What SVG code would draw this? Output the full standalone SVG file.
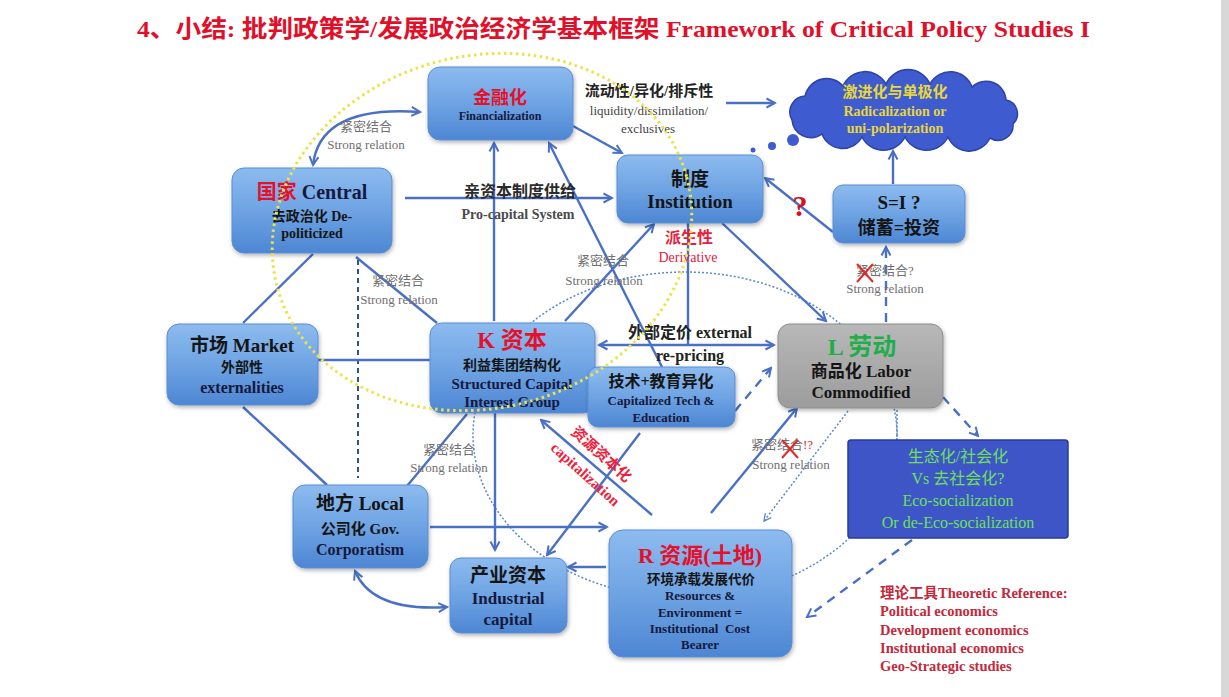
<svg xmlns="http://www.w3.org/2000/svg" width="1229" height="697" viewBox="0 0 1229 697">
  <defs>
    <style>
      .t { font-family: "Liberation Serif", "Noto Sans CJK SC", serif; font-weight: bold; text-anchor: middle; }
      .navy { fill: #15193d; }
      .blk { fill: #151515; }
      .red { fill: #e5102a; }
      .lbl { font-family: "Liberation Serif", "Noto Sans CJK SC", serif; font-size: 13px; fill: #707070; text-anchor: middle; }
      .box { fill: url(#gBlue); stroke: #5b8dd6; stroke-width: 1; filter: url(#sh); }
      .ln { fill: none; stroke: #4a70c6; stroke-width: 2.4; }
      .arr { marker-end: url(#ah); }
      .arr2 { marker-start: url(#ah); marker-end: url(#ah); }
      .dash { fill: none; stroke: #4a70c6; stroke-width: 2.4; stroke-dasharray: 9 7; }
      .dot { fill: none; stroke: #5a88d0; stroke-width: 1.5; stroke-dasharray: 2 2; }
      .cross { stroke: #e02828; stroke-width: 2; }
      .eco { fill: #6fe05c; font-family: "Liberation Serif", "Noto Sans CJK SC", serif; font-size: 16px; text-anchor: middle; }
      .ref { fill: #c4283a; font-family: "Liberation Serif", "Noto Sans CJK SC", serif; font-size: 14.5px; font-weight: bold; }
    </style>
    <linearGradient id="gBlue" x1="0" y1="0" x2="0" y2="1">
      <stop offset="0" stop-color="#8dbbef"/>
      <stop offset="0.55" stop-color="#6ba1e2"/>
      <stop offset="1" stop-color="#4d86d3"/>
    </linearGradient>
    <linearGradient id="gGray" x1="0" y1="0" x2="0" y2="1">
      <stop offset="0" stop-color="#b8b8b8"/>
      <stop offset="1" stop-color="#9c9c9c"/>
    </linearGradient>
    <filter id="sh" x="-10%" y="-10%" width="120%" height="130%">
      <feDropShadow dx="1" dy="2" stdDeviation="2" flood-color="#000" flood-opacity="0.3"/>
    </filter>
    <marker id="ah" viewBox="0 0 12 12" refX="10" refY="6" markerWidth="12" markerHeight="12" markerUnits="userSpaceOnUse" orient="auto-start-reverse">
      <path d="M1.5,1.5 L10,6 L1.5,10.5" fill="none" stroke="#4a70c6" stroke-width="2"/>
    </marker>
    <marker id="ahs" viewBox="0 0 12 12" refX="10" refY="6" markerWidth="10" markerHeight="10" markerUnits="userSpaceOnUse" orient="auto">
      <path d="M1.5,1.5 L10,6 L1.5,10.5" fill="none" stroke="#5a88d0" stroke-width="1.6"/>
    </marker>
  </defs>

  <rect width="1229" height="697" fill="#ffffff"/>
  <rect x="1221" y="0" width="8" height="697" fill="#d8d8d8"/>

  <!-- title -->
  <text x="137" y="37" font-family="Liberation Serif, Noto Sans CJK SC, serif" font-weight="bold" font-size="24" fill="#e0102a" textLength="953" lengthAdjust="spacingAndGlyphs">4、小结: 批判政策学/发展政治经济学基本框架 Framework of Critical Policy Studies I</text>

  <!-- thin dotted loop behind the lower nodes -->
  <ellipse cx="685" cy="435" rx="212" ry="163" class="dot"/>

  <!-- connectors -->
  <g id="connectors">
    <path class="ln arr2" d="M313,165 Q320,105 420,112"/>
    <line class="ln arr" x1="405" y1="198" x2="612" y2="198"/>
    <line class="ln arr" x1="573" y1="126" x2="622" y2="153"/>
    <line class="ln arr" x1="726" y1="103" x2="775" y2="103"/>
    <line class="ln arr" x1="893" y1="184" x2="893" y2="151"/>
    <line class="ln arr" x1="833" y1="232" x2="765" y2="178"/>
    <line class="dash arr" x1="886" y1="322" x2="886" y2="247"/>
    <line class="ln" x1="313" y1="254" x2="243" y2="323"/>
    <line class="ln" x1="356" y1="257" x2="437" y2="323"/>
    <line x1="358" y1="260" x2="358" y2="478" stroke="#34508f" stroke-width="2" stroke-dasharray="5 4"/>
    <line class="ln" x1="318" y1="360" x2="430" y2="360"/>
    <line class="ln" x1="243" y1="407" x2="327" y2="485"/>
    <line class="ln" x1="467" y1="414" x2="407" y2="486"/>
    <line class="ln arr" x1="495" y1="413" x2="495" y2="550"/>
    <line class="ln arr" x1="494" y1="321" x2="494" y2="143"/>
    <line class="ln arr" x1="662" y1="367" x2="549" y2="143"/>
    <line class="ln arr" x1="565" y1="321" x2="654" y2="224"/>
    <line class="ln arr" x1="722" y1="223" x2="826" y2="321"/>
    <line class="ln" x1="688" y1="223" x2="688" y2="345"/>
    <line class="ln arr2" x1="599" y1="345" x2="774" y2="345"/>
    <line class="dash arr" x1="735" y1="411" x2="771" y2="368"/>
    <line class="ln arr" x1="640" y1="433" x2="547" y2="555"/>
    <line class="ln arr" x1="652" y1="515" x2="541" y2="420"/>
    <line class="ln arr" x1="711" y1="513" x2="797" y2="408"/>
    <line class="dot" x1="848" y1="411" x2="764" y2="521" marker-end="url(#ahs)"/>
    <line class="dash arr" x1="943" y1="397" x2="978" y2="436"/>
    <line class="dot" x1="897" y1="410" x2="897" y2="440"/>
    <line class="dash arr" x1="912" y1="540" x2="807" y2="617"/>
    <line class="ln arr" x1="430" y1="527" x2="607" y2="527"/>
    <line class="ln arr" x1="606" y1="567" x2="568" y2="567"/>
    <path class="ln arr2" d="M355,571 Q372,612 447,607"/>
    <!-- thought bubbles toward the cloud -->
    <circle cx="793" cy="140" r="6" fill="#3e5bcf"/>
    <circle cx="772" cy="146" r="4" fill="#3e5bcf"/>
    <circle cx="753" cy="150" r="2.5" fill="#3e5bcf"/>
  </g>

  <!-- connector labels -->
  <g id="labels">
    <text class="lbl" x="366" y="131">紧密结合</text>
    <text class="lbl" x="366" y="149">Strong relation</text>
    <text x="520" y="197" font-family="Liberation Serif, Noto Sans CJK SC, serif" font-weight="bold" font-size="16" fill="#2a2a2a" text-anchor="middle">亲资本制度供给</text>
    <text x="518" y="219" font-family="Liberation Serif, Noto Sans CJK SC, serif" font-weight="bold" font-size="14" fill="#4a4a4a" text-anchor="middle">Pro-capital System</text>
    <text x="649" y="96" font-family="Liberation Serif, Noto Sans CJK SC, serif" font-weight="bold" font-size="15" fill="#222" text-anchor="middle">流动性/异化/排斥性</text>
    <text x="649" y="115" font-family="Liberation Serif, Noto Sans CJK SC, serif" font-size="13" fill="#444" text-anchor="middle">liquidity/dissimilation/</text>
    <text x="648" y="133" font-family="Liberation Serif, Noto Sans CJK SC, serif" font-size="13" fill="#444" text-anchor="middle">exclusives</text>
    <text class="lbl" x="398" y="285">紧密结合</text>
    <text class="lbl" x="399" y="304">Strong relation</text>
    <text class="lbl" x="603" y="265">紧密结合</text>
    <text class="lbl" x="604" y="285">Strong relation</text>
    <text x="689" y="243" font-family="Liberation Serif, Noto Sans CJK SC, serif" font-weight="bold" font-size="16" fill="#e8203a" text-anchor="middle">派生性</text>
    <text x="688" y="262" font-family="Liberation Serif, Noto Sans CJK SC, serif" font-size="14" fill="#e8203a" text-anchor="middle">Derivative</text>
    <text x="690" y="338" font-family="Liberation Serif, Noto Sans CJK SC, serif" font-weight="bold" font-size="16" fill="#222" text-anchor="middle">外部定价 external</text>
    <text x="690" y="361" font-family="Liberation Serif, Noto Sans CJK SC, serif" font-weight="bold" font-size="16" fill="#222" text-anchor="middle">re-pricing</text>
    <text class="lbl" x="885" y="275">紧密结合?</text>
    <text class="lbl" x="885" y="293">Strong relation</text>
    <text class="lbl" x="449" y="454">紧密结合</text>
    <text class="lbl" x="449" y="472">Strong relation</text>
    <text class="lbl" x="782" y="449">紧密结合<tspan fill="#e02828">!?</tspan></text>
    <text class="lbl" x="791" y="469">Strong relation</text>
    <line class="cross" x1="857" y1="264" x2="873" y2="282"/>
    <line class="cross" x1="873" y1="264" x2="857" y2="282"/>
    <line class="cross" x1="782" y1="440" x2="798" y2="458"/>
    <line class="cross" x1="798" y1="440" x2="782" y2="458"/>
    <text x="800" y="216" font-family="Liberation Serif, serif" font-weight="bold" font-size="30" fill="#d81020" text-anchor="middle">?</text>
    <g transform="translate(598,458) rotate(42)">
      <text x="0" y="0" font-family="Liberation Serif, Noto Sans CJK SC, serif" font-weight="bold" font-size="15" fill="#f0203a" text-anchor="middle">资源资本化</text>
    </g>
    <g transform="translate(582,478) rotate(42)">
      <text x="0" y="0" font-family="Liberation Serif, Noto Sans CJK SC, serif" font-weight="bold" font-size="15" fill="#f0203a" text-anchor="middle">capitalization</text>
    </g>
  </g>

  <!-- nodes -->
  <g id="n-fin">
    <rect class="box" x="428" y="67" width="145" height="73" rx="12"/>
    <text class="t red" x="500" y="104" font-size="18">金融化</text>
    <text class="t navy" x="500" y="120" font-size="12">Financialization</text>
  </g>
  <g id="n-central">
    <rect class="box" x="232" y="168" width="160" height="85" rx="12"/>
    <text class="t navy" x="312" y="199" font-size="20"><tspan class="red">国家</tspan> Central</text>
    <text class="t blk" x="312" y="221" font-size="14">去政治化 De-</text>
    <text class="t blk" x="312" y="238" font-size="14">politicized</text>
  </g>
  <g id="n-inst">
    <rect class="box" x="617" y="155" width="146" height="68" rx="11"/>
    <text class="t blk" x="690" y="186" font-size="19">制度</text>
    <text class="t blk" x="690" y="208" font-size="19">Institution</text>
  </g>
  <g id="n-si">
    <rect class="box" x="833" y="185" width="132" height="58" rx="10"/>
    <text class="t blk" x="899" y="209" font-size="19">S=I ?</text>
    <text class="t blk" x="899" y="234" font-size="18">储蓄=投资</text>
  </g>
  <g id="n-cloud">
    <path d="M792,120 A16,16 0 0 1 805,96 A22,22 0 0 1 843,86 A24,24 0 0 1 886,84 A24,24 0 0 1 930,84 A23,23 0 0 1 972,87 A20,20 0 0 1 1006,100 A14,14 0 0 1 1013,124 A15,15 0 0 1 990,138 A23,23 0 0 1 948,137 A24,24 0 0 1 905,137 A24,24 0 0 1 862,137 A22,22 0 0 1 822,134 A19,19 0 0 1 792,120 Z" fill="#3e5bcf" stroke="#2c43a6" stroke-width="1.5"/>
    <text class="t" x="895" y="97" font-size="15" fill="#e6d640">激进化与单极化</text>
    <text class="t" x="895" y="116" font-size="14" fill="#e6d640" font-weight="normal">Radicalization or</text>
    <text class="t" x="895" y="133" font-size="14" fill="#e6d640" font-weight="normal">uni-polarization</text>
  </g>
  <g id="n-market">
    <rect class="box" x="167" y="324" width="151" height="81" rx="12"/>
    <text class="t blk" x="242" y="352" font-size="19">市场 Market</text>
    <text class="t blk" x="242" y="372" font-size="14">外部性</text>
    <text class="t navy" x="242" y="393" font-size="16">externalities</text>
  </g>
  <g id="n-k">
    <rect class="box" x="430" y="323" width="165" height="90" rx="12"/>
    <text class="t red" x="512" y="348" font-size="23">K 资本</text>
    <text class="t blk" x="512" y="370" font-size="14">利益集团结构化</text>
    <text class="t navy" x="512" y="389" font-size="15">Structured Capital</text>
    <text class="t navy" x="512" y="407" font-size="15">Interest Group</text>
  </g>
  <g id="n-tech">
    <rect class="box" x="588" y="367" width="147" height="60" rx="10"/>
    <text class="t blk" x="661" y="387" font-size="16">技术+教育异化</text>
    <text class="t navy" x="661" y="405" font-size="13">Capitalized Tech &amp;</text>
    <text class="t navy" x="661" y="422" font-size="13">Education</text>
  </g>
  <g id="n-labor">
    <rect x="778" y="324" width="165" height="84" rx="12" fill="url(#gGray)" stroke="#8e8e8e" stroke-width="1" filter="url(#sh)"/>
    <text class="t" x="862" y="355" font-size="24" fill="#1fae4a">L 劳动</text>
    <text class="t blk" x="861" y="377" font-size="17">商品化 Labor</text>
    <text class="t blk" x="861" y="398" font-size="17">Commodified</text>
  </g>
  <g id="n-eco">
    <rect x="848" y="440" width="220" height="98" rx="3" fill="#3d55c6" stroke="#2a3b96" stroke-width="1.5"/>
    <text class="eco" x="958" y="462">生态化/社会化</text>
    <text class="eco" x="958" y="484">Vs 去社会化?</text>
    <text class="eco" x="958" y="506">Eco-socialization</text>
    <text class="eco" x="958" y="528">Or de-Eco-socialization</text>
  </g>
  <g id="n-local">
    <rect class="box" x="293" y="485" width="135" height="83" rx="12"/>
    <text class="t blk" x="360" y="510" font-size="19">地方 Local</text>
    <text class="t blk" x="360" y="534" font-size="15">公司化 Gov.</text>
    <text class="t navy" x="360" y="555" font-size="16">Corporatism</text>
  </g>
  <g id="n-ind">
    <rect class="box" x="450" y="558" width="117" height="75" rx="11"/>
    <text class="t blk" x="508" y="582" font-size="19">产业资本</text>
    <text class="t navy" x="508" y="604" font-size="17">Industrial</text>
    <text class="t navy" x="508" y="625" font-size="17">capital</text>
  </g>
  <g id="n-res">
    <rect class="box" x="609" y="530" width="183" height="127" rx="14"/>
    <text class="t red" x="700" y="563" font-size="22">R 资源(土地)</text>
    <text class="t blk" x="701" y="584" font-size="13.5">环境承载发展代价</text>
    <text class="t navy" x="700" y="600" font-size="13">Resources &amp;</text>
    <text class="t navy" x="700" y="617" font-size="13">Environment =</text>
    <text class="t navy" x="700" y="633" font-size="13" xml:space="preserve">Institutional  Cost</text>
    <text class="t navy" x="700" y="649" font-size="13">Bearer</text>
  </g>

  <!-- yellow dotted ring drawn over the upper-left nodes -->
  <ellipse cx="482" cy="232" rx="212" ry="176" transform="rotate(-15 482 232)" fill="none" stroke="#ece24a" stroke-width="3" stroke-dasharray="2.5 3.5"/>

  <!-- theory reference -->
  <g id="reference">
    <text class="ref" x="880" y="598">理论工具Theoretic Reference:</text>
    <text class="ref" x="880" y="616">Political economics</text>
    <text class="ref" x="880" y="635">Development economics</text>
    <text class="ref" x="880" y="653">Institutional economics</text>
    <text class="ref" x="880" y="671">Geo-Strategic studies</text>
  </g>
</svg>
